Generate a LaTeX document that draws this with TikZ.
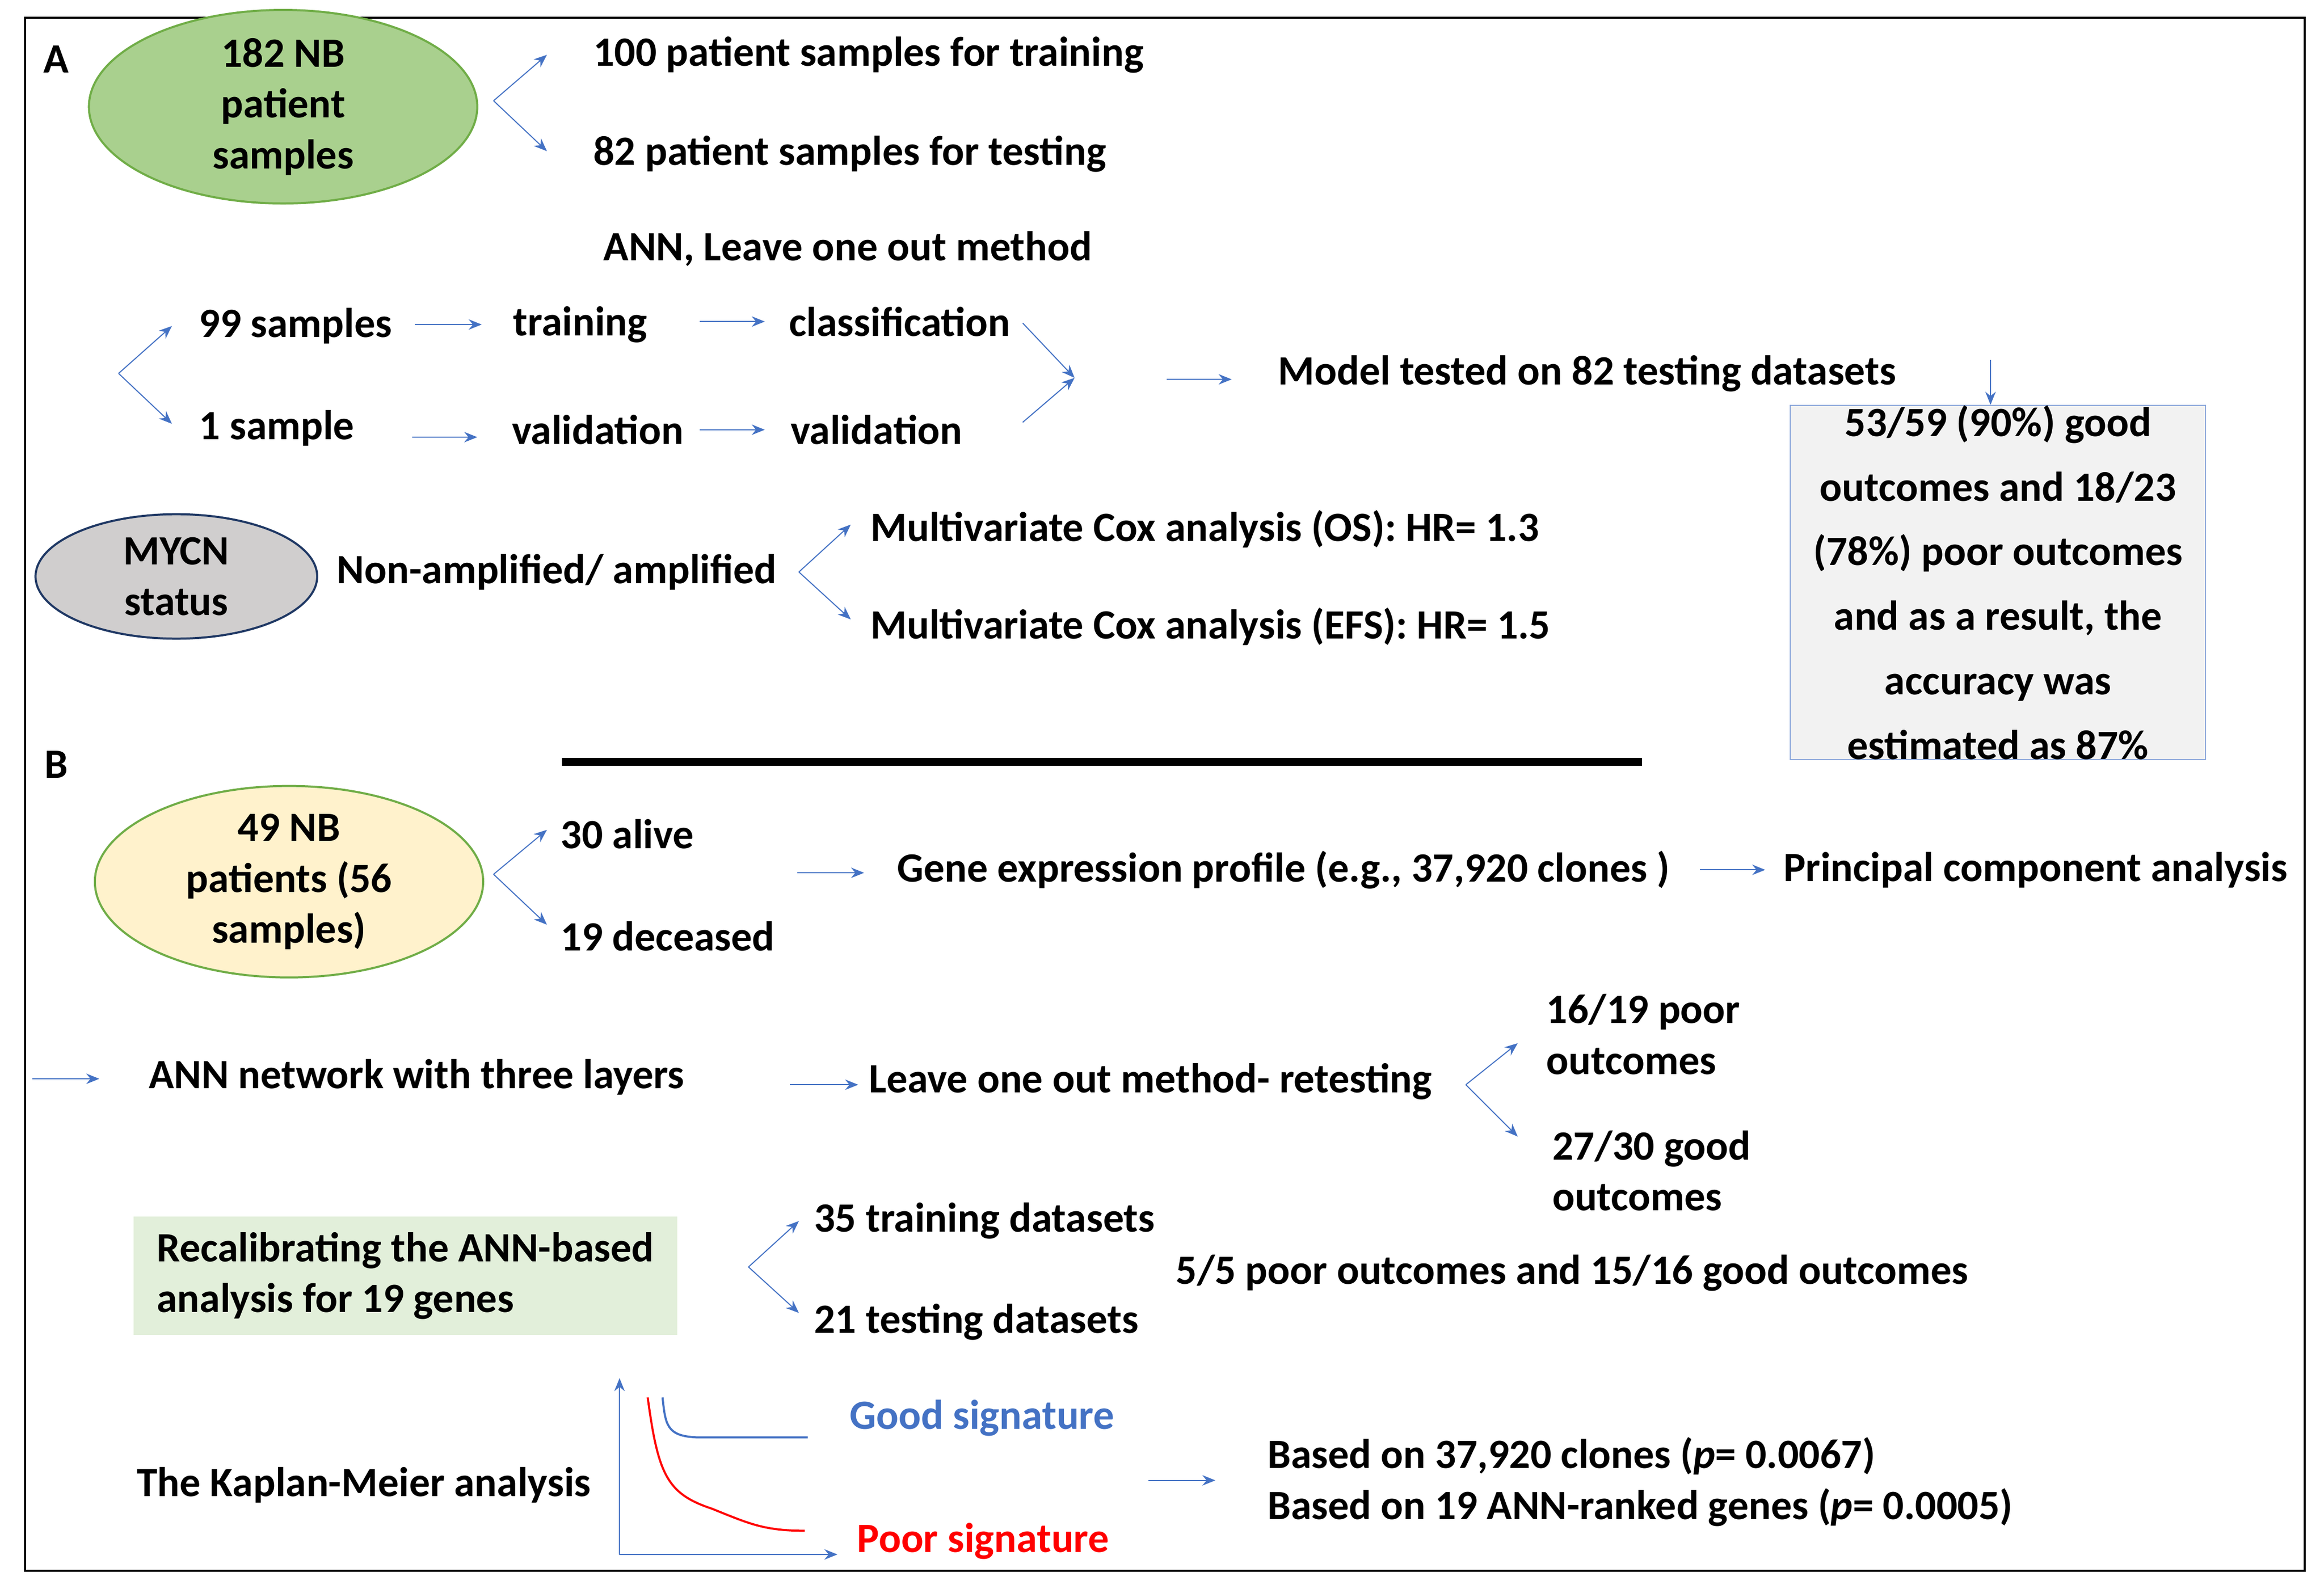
\documentclass[tikz,border=0pt]{standalone}
\usepackage{fontspec}
\setmainfont{Carlito}
\usetikzlibrary{arrows.meta,shapes.geometric}
\definecolor{ablue}{RGB}{68,114,196}
\definecolor{gfill}{RGB}{169,208,142}
\definecolor{gline}{RGB}{112,173,71}
\definecolor{yfill}{RGB}{255,242,204}
\definecolor{mfill}{RGB}{208,206,206}
\definecolor{mline}{RGB}{31,56,100}
\definecolor{bfill}{RGB}{242,242,242}
\definecolor{bline}{RGB}{143,170,220}
\definecolor{lgfill}{RGB}{226,239,218}
\begin{document}
\begin{tikzpicture}[x=0.02cm,y=-0.02cm,
  every node/.style={font=\fontsize{16}{19.5}\selectfont\bfseries,inner sep=0pt},
  t/.style={anchor=west},
  arr/.style={ablue,thin,-{Stealth[length=5pt,width=4pt]}},
  ell/.style={ellipse,draw,thick,align=center,minimum width=#1*0.02cm}]
\useasboundingbox (0,0) rectangle (1568,1072);
\draw[thick] (17,12) rectangle (1555,1060);

% Part A
\node (la) at (38,40) {A};
\node[ell=262,minimum height=108*0.02cm,fill=gfill,draw=gline] (nb) at (191,72) {182 NB\\patient\\samples};
\coordinate (f1) at (333,68);
\coordinate (f1a) at (369,37);
\coordinate (f1b) at (369,102);
\draw[arr] (f1) -- (f1a);
\draw[arr] (f1) -- (f1b);
\node[t] (tr) at (400,37) {100 patient samples for training};
\node[t] (te) at (400,104) {82 patient samples for testing};
\node (ann) at (572,168) {ANN, Leave one out method};

\coordinate (f2) at (80,252);
\coordinate (f2a) at (116,220);
\coordinate (f2b) at (116,286);
\draw[arr] (f2) -- (f2a);
\draw[arr] (f2) -- (f2b);
\node[t] (s99) at (134,220) {99 samples};
\node[t] (s1) at (134,289) {1 sample};
\node[t] (trn) at (346,219) {training};
\node[t] (cls) at (532,217) {classification};
\node[t] (val1) at (345,290) {validation};
\node[t] (val2) at (533,290) {validation};
\draw[arr] (280,219) -- (325,219);
\draw[arr] (472,217) -- (516,217);
\draw[arr] (278,295) -- (322,295);
\draw[arr] (472,290) -- (516,290);
\coordinate (m) at (725,255);
\draw[arr] (690,218) -- (m);
\draw[arr] (690,285) -- (m);
\node[t] (mod) at (862,252) {Model tested on 82 testing datasets};
\draw[arr] (787,256) -- (831,256);
\node[draw=bline,fill=bfill,minimum width=280*0.02cm,minimum height=218*0.02cm,align=center,
  font=\fontsize{16}{24.8}\selectfont\bfseries] (res) at (1348,393)
  {53/59 (90\%) good\\outcomes and 18/23\\(78\%) poor outcomes\\and as a result, the\\accuracy was\\estimated as 87\%};
\draw[arr] (1343,243) -- (res.north -| 1343,0);

\node[ell=190,minimum height=84*0.02cm,fill=mfill,draw=mline] (mycn) at (119,389) {MYCN\\status};
\node[t] (amp) at (227,386) {Non-amplified/ amplified};
\coordinate (f3) at (539,386);
\draw[arr] (f3) -- (574,354);
\draw[arr] (f3) -- (574,418);
\node[t] (os) at (587,357) {Multivariate Cox analysis (OS): HR= 1.3};
\node[t] (efs) at (587,423) {Multivariate Cox analysis (EFS): HR= 1.5};

% separator
\draw[line width=3pt] (379,514) -- (1108,514);

% Part B
\node (lb) at (38,516) {B};
\node[ell=262,minimum height=100*0.02cm,fill=yfill,draw=gline] (nb2) at (195,595) {49 NB\\patients (56\\samples)};
\coordinate (f4) at (333,590);
\draw[arr] (f4) -- (369,560);
\draw[arr] (f4) -- (369,624);
\node[t] (alive) at (378,563) {30 alive};
\node[t] (dec) at (378,632) {19 deceased};
\node[t] (gep) at (605,587) {Gene expression profile (e.g., 37,920 clones )};
\node[t] (pca) at (1203,587) {Principal component analysis};
\draw[arr] (538,589) -- (583,589);
\draw[arr] (1147,587) -- (1191,587);

\node[t] (ann3) at (100,727) {ANN network with three layers};
\draw[arr] (22,728) -- (67,728);
\node[t] (loo) at (586,730) {Leave one out method- retesting};
\draw[arr] (533,732) -- (579,732);
\coordinate (f5) at (989,732);
\draw[arr] (f5) -- (1024,704);
\draw[arr] (f5) -- (1024,767);
\node[t,align=left] (poor) at (1043,698) {16/19 poor\\outcomes};
\node[t,align=left] (good) at (1047,790) {27/30 good\\outcomes};

\node[fill=lgfill,minimum width=367*0.02cm,minimum height=80*0.02cm,align=left] (recal) at (273.5,861)
  {Recalibrating the ANN-based\\analysis for 19 genes};
\coordinate (f6) at (505,855);
\draw[arr] (f6) -- (539,824);
\draw[arr] (f6) -- (539,886);
\node[t] (d35) at (549,824) {35 training datasets};
\node[t] (d21) at (549,892) {21 testing datasets};
\node[t] (po) at (793,859) {5/5 poor outcomes and 15/16 good outcomes};

\node[t] (km) at (92,1002) {The Kaplan-Meier analysis};
\coordinate (o) at (418,1049);
\draw[arr] (o) -- (418,930);
\draw[arr] (o) -- (565,1049);
\draw[ablue,thick] (447,943) .. controls (449,962) and (450,969) .. (470,970) -- (545,970);
\draw[red,thick] (437,943) .. controls (444,995) and (450,1008) .. (480,1018) .. controls (505,1028) and (515,1033) .. (543,1033);
\node[t,text=ablue] (gs) at (573,957) {Good signature};
\node[t,text=red] (ps) at (578,1040) {Poor signature};
\draw[arr] (775,999) -- (820,999);
\node[t,align=left] (based) at (855,1000) {Based on 37,920 clones (\textit{p}= 0.0067)\\Based on 19 ANN-ranked genes (\textit{p}= 0.0005)};
\end{tikzpicture}
\end{document}
